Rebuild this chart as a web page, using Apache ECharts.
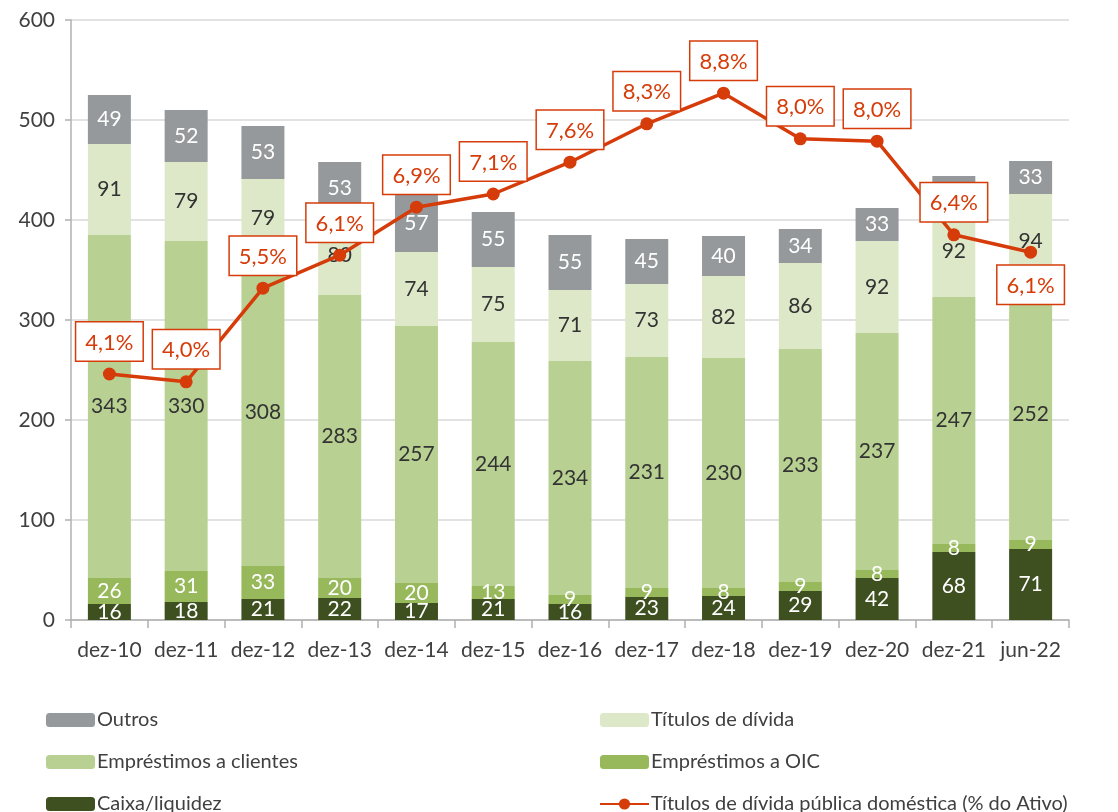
<!DOCTYPE html>
<html lang="pt">
<head>
<meta charset="UTF-8">
<title>Ativo</title>
<script src="https://cdn.jsdelivr.net/npm/echarts@6/dist/echarts.min.js"></script>
<style>
  html, body { margin: 0; padding: 0; background: #fff; }
  #main { width: 1118px; height: 812px; }
</style>
</head>
<body>
<div id="main"></div>
<script>
// dados
var categorias = ['dez-10', 'dez-11', 'dez-12', 'dez-13', 'dez-14', 'dez-15', 'dez-16', 'dez-17', 'dez-18', 'dez-19', 'dez-20', 'dez-21', 'jun-22'];
var caixa = [16, 18, 21, 22, 17, 21, 16, 23, 24, 29, 42, 68, 71];
var emprOIC = [26, 31, 33, 20, 20, 13, 9, 9, 8, 9, 8, 8, 9];
var emprClientes = [343, 330, 308, 283, 257, 244, 234, 231, 230, 233, 237, 247, 252];
var titulos = [91, 79, 79, 80, 74, 75, 71, 73, 82, 86, 92, 92, 94];
var outros = [49, 52, 53, 53, 57, 55, 55, 45, 40, 34, 33, 29, 33];
var divPublica = [4.1, 3.97, 5.53, 6.08, 6.88, 7.1, 7.63, 8.27, 8.78, 8.02, 7.98, 6.42, 6.13];

var fonte = 'Lato, "Open Sans", sans-serif';
var vermelho = '#d63c0a';

var myChart = echarts.init(document.getElementById('main'));

function barra(nome, dados, cor, corTexto) {
    return {
        name: nome,
        type: 'bar',
        stack: 'total',
        barWidth: 43,
        data: dados,
        itemStyle: { color: cor },
        label: {
            show: true,
            position: 'inside',
            color: corTexto,
            fontFamily: fonte,
            fontSize: 21
        }
    };
}

// a ultima etiqueta fica por baixo do ponto
var dadosLinha = divPublica.map(function (v, i) {
    if (i === divPublica.length - 1) {
        return { value: v, label: { position: 'bottom' } };
    }
    return v;
});

var legendaBase = {
    orient: 'vertical',
    top: 704,
    height: 130,
    itemWidth: 49,
    itemHeight: 14,
    itemGap: 20,
    textStyle: { fontSize: 20, color: '#404040', lineHeight: 22, padding: [0, 0, 0, -3] }
};

var option = {
    backgroundColor: '#fff',
    textStyle: { fontFamily: fonte },
    grid: { left: 71, right: 49, top: 20, bottom: 192 },
    legend: [
        Object.assign({}, legendaBase, {
            left: 41,
            data: ['Outros', 'Empréstimos a clientes', 'Caixa/liquidez']
        }),
        Object.assign({}, legendaBase, {
            left: 594,
            data: ['Títulos de dívida', 'Empréstimos a OIC', 'Títulos de dívida pública doméstica (% do Ativo)']
        })
    ],
    xAxis: {
        type: 'category',
        data: categorias,
        axisLine: { lineStyle: { color: '#b0b0b0', width: 1.5 } },
        axisTick: { show: true, length: 8, interval: 0, lineStyle: { color: '#b0b0b0', width: 1.5 } },
        axisLabel: { color: '#404040', fontSize: 21, margin: 20, interval: 0, fontFamily: fonte }
    },
    yAxis: [{
        type: 'value',
        min: 0,
        max: 600,
        interval: 100,
        axisLine: { show: true, lineStyle: { color: '#b0b0b0', width: 1.5 } },
        axisTick: { show: true, length: 6, lineStyle: { color: '#b0b0b0', width: 1.5 } },
        splitLine: { lineStyle: { color: '#d9d9d9', width: 1.5 } },
        axisLabel: { color: '#404040', fontSize: 21, margin: 16, fontFamily: fonte }
    }, {
        type: 'value',
        min: 0,
        max: 10,
        show: false,
        splitLine: { show: false }
    }],
    series: [
        barra('Caixa/liquidez', caixa, '#3e4f20', '#ffffff'),
        barra('Empréstimos a OIC', emprOIC, '#97b85b', '#ffffff'),
        barra('Empréstimos a clientes', emprClientes, '#b8d192', '#333333'),
        barra('Títulos de dívida', titulos, '#dde8c8', '#333333'),
        barra('Outros', outros, '#95999c', '#ffffff'),
        {
            name: 'Títulos de dívida pública doméstica (% do Ativo)',
            type: 'line',
            yAxisIndex: 1,
            z: 10,
            data: dadosLinha,
            symbol: 'circle',
            symbolSize: 13,
            lineStyle: { color: vermelho, width: 3.5 },
            itemStyle: { color: vermelho },
            label: {
                show: true,
                position: 'top',
                distance: 7,
                color: vermelho,
                fontSize: 22,
                fontFamily: fonte,
                backgroundColor: '#ffffff',
                borderColor: vermelho,
                borderWidth: 1.5,
                padding: [9, 9, 7, 9],
                formatter: function (p) {
                    var v = typeof p.value === 'object' ? p.value.value : p.value;
                    return v.toFixed(1).replace('.', ',') + '%';
                }
            }
        }
    ]
};

myChart.setOption(option);
</script>
</body>
</html>
